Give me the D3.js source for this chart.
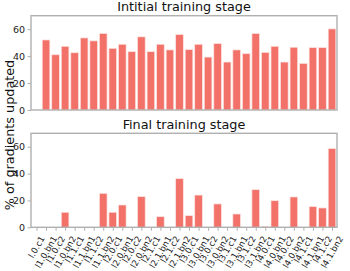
<html>
<head>
<script src="https://d3js.org/d3.v7.min.js"></script>
<style>
  body { margin: 0; background: #fff; }
  text { font-family: "DejaVu Sans", sans-serif; }
</style>
</head>
<body>
<script>
// layer names along the x axis
var layers = ['l.0.c1',
'l1.0.bn1', 'l1.0.c2', 'l1.0.bn2', 'l1.1.c1', 'l1.1.bn1', 'l1.1.c2', 'l1.1.bn2',
'l2.0.c1', 'l2.0.bn1', 'l2.0.c2', 'l2.0.bn2', 'l2.1.c1', 'l2.1.bn1', 'l2.1.c2', 'l2.1.bn2',
'l3.0.c1', 'l3.0.bn1', 'l3.0.c2', 'l3.0.bn2', 'l3.1.c1', 'l3.1.bn1', 'l3.1.c2', 'l3.1.bn2',
'l4.0.c1', 'l4.0.bn1', 'l4.0.c2', 'l4.0.bn2', 'l4.1.c1', 'l4.1.bn1', 'l4.1.c2', 'l4.1.bn2'];

// % of gradients updated
var initialStage = [0, 52, 41, 47.3, 42.5, 53.5, 51.3, 56.8, 45.8, 48.8, 43.3, 54.3, 43.3, 48.8, 44.6, 56,
  44.8, 48.8, 39.3, 49.3, 35.6, 44.6, 41.8, 56.8, 42.8, 47.3, 35.6, 46.6, 34.6, 46.3, 46.3, 60.2];
var finalStage = [0, 0, 0, 11.2, 0, 0, 0, 25.3, 11.2, 16.6, 0, 22.8, 0, 7.9, 0, 36.2,
  8.7, 24, 0, 17.4, 0, 9.9, 0, 28, 0.7, 19.8, 0, 22.6, 0, 15.4, 14.4, 58.6];

var yTicks = [0, 20, 40, 60];
var titles = ["Intitial training stage", "Final training stage"];

var barColor = "#f2726a";
var spineColor = "#b0b0b0";

var svg = d3.select("body").append("svg").attr("width", 350).attr("height", 271);

var left = 31, right = 337;
var x = d3.scalePoint().domain(layers).range([36.5, 332]);
var bw = x.step() * 0.8;

var panels = [
  {values: initialStage, title: titles[0], top: 15.7, bottom: 110, titleY: 11, xlabels: false},
  {values: finalStage, title: titles[1], top: 133.3, bottom: 227.3, titleY: 129.3, xlabels: true}
];

panels.forEach(function(p) {
  var y = d3.scaleLinear().domain([0, 70]).range([p.bottom, p.top]);
  var g = svg.append("g");

  g.selectAll("rect.bar")
    .data(p.values)
    .join("rect")
      .attr("class", "bar")
      .attr("x", (d, i) => x(layers[i]) - bw / 2)
      .attr("y", d => y(d))
      .attr("width", bw)
      .attr("height", d => y(0) - y(d))
      .attr("fill", barColor)
      .attr("stroke", "#fde3e0")
      .attr("stroke-width", 0.7)
      .attr("opacity", d => d > 0 ? 1 : 0);

  // frame
  g.append("rect")
    .attr("x", left).attr("y", p.top)
    .attr("width", right - left).attr("height", p.bottom - p.top)
    .attr("fill", "none").attr("stroke", spineColor).attr("stroke-width", 1.4);

  var ya = g.append("g").attr("transform", "translate(" + left + ",0)")
    .call(d3.axisLeft(y).tickValues(yTicks).tickSize(3.5).tickPadding(2.5));
  ya.select(".domain").remove();
  ya.selectAll("line").attr("stroke", spineColor).attr("stroke-width", 1);
  ya.selectAll("text").attr("font-size", "9.5px").attr("fill", "#222")
    .style("font-family", "DejaVu Sans");

  g.append("text")
    .attr("x", (left + right) / 2).attr("y", p.titleY)
    .attr("text-anchor", "middle")
    .attr("font-size", "12.8px").attr("fill", "#111")
    .text(p.title);

  if (p.xlabels) {
    var xa = g.append("g").attr("transform", "translate(0," + p.bottom + ")")
      .call(d3.axisBottom(x).tickSize(3.5).tickFormat(""));
    xa.select(".domain").remove();
    xa.selectAll("line").attr("stroke", spineColor).attr("stroke-width", 1);

    // rotated labels, bbox centred on the tick like matplotlib
    var fs = 8.6, h = fs * 1.16;
    var c = Math.cos(Math.PI / 3), s = Math.sin(Math.PI / 3);
    layers.forEach(function(name) {
      var t = g.append("text")
        .attr("font-size", fs + "px").attr("fill", "#1a1a1a")
        .attr("text-anchor", "end")
        .text(name);
      var L = t.node().getComputedTextLength();
      var w = c * L + s * h;
      var ex = x(name) + w / 2;
      var ey = p.bottom + 6.5 + c * h + 0.5;
      t.attr("transform", "translate(" + ex + "," + ey + ") rotate(-60)")
        .attr("dy", "-0.22em");
    });
  }
});

svg.append("text")
  .attr("transform", "translate(13.5,135) rotate(-90)")
  .attr("text-anchor", "middle")
  .attr("font-size", "12.8px").attr("fill", "#111")
  .text("% of gradients updated");
</script>
</body>
</html>
